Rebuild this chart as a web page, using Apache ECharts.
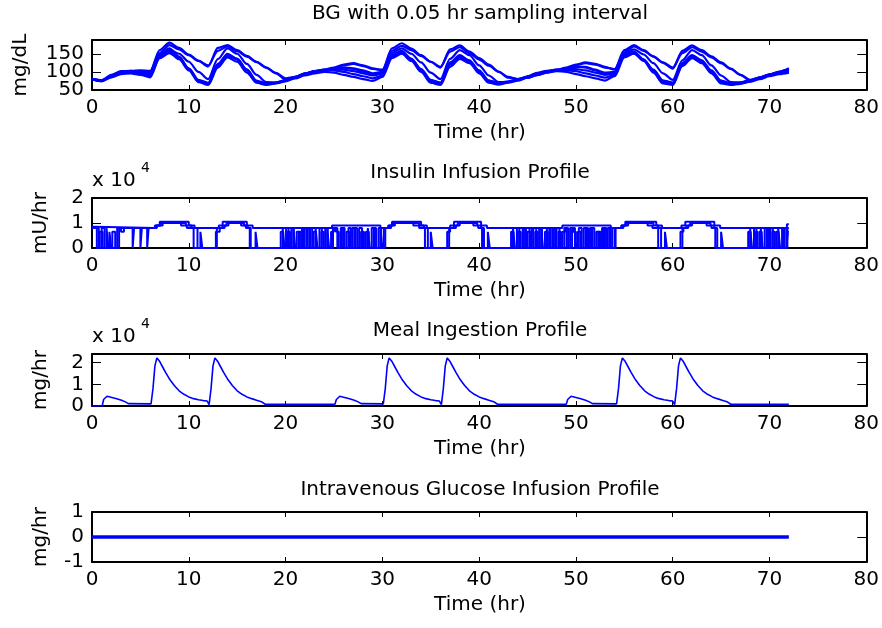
<!DOCTYPE html>
<html>
<head>
<meta charset="utf-8">
<script src="https://cdn.jsdelivr.net/npm/echarts@6.0.0/dist/echarts.min.js"></script>
<style>
html,body{margin:0;padding:0;background:#fff}
#chart{width:882px;height:628px}
</style>
</head>
<body>
<div id="chart"></div>
<script>
// ---- data ----
var timeTicks = [0, 10, 20, 30, 40, 50, 60, 70, 80];

// BG, one value per hour, 0..72 hr
var bgTime = [0,1,2,3,4,5,6,7,8,9,10,11,12,13,14,15,16,17,18,19,20,21,22,23,24,25,26,27,28,29,30,31,32,33,34,35,36,
    37,38,39,40,41,42,43,44,45,46,47,48,49,50,51,52,53,54,55,56,57,58,59,60,61,62,63,64,65,66,67,68,69,70,71,72];
var bgA = [80,77,88,99,103,104,103,160,181,166,148,131,115,166,174,160,144,128,112,96,79,84,94,101,
    105,110,118,122,116,108,106,165,179,164,146,128,112,162,173,156,138,120,101,84,80,84,91,98,
    104,110,118,124,120,112,108,160,174,160,143,125,109,158,173,160,143,126,109,92,76,82,92,100,108];
var bgF = [80,76,86,96,100,101,100,152,174,162,146,130,118,158,170,157,142,127,112,97,82,86,95,102,
    106,112,120,124,118,110,104,158,172,160,144,128,114,156,168,152,134,117,100,86,80,84,92,99,
    105,112,120,126,122,114,106,154,170,158,142,126,112,152,168,156,140,124,108,92,78,84,93,101,110];
var bgB = [80,75,90,100,101,96,88,148,165,142,108,74,66,122,150,136,104,72,65,69,75,84,94,100,
    104,104,100,94,88,82,90,146,158,136,104,72,66,126,146,130,100,72,67,72,78,86,95,101,
    104,105,102,96,90,84,92,148,156,134,102,71,66,124,144,130,100,71,65,68,74,82,90,96,100];
var bgC = [80,76,92,102,103,99,92,145,160,140,110,78,70,118,145,134,106,76,68,71,77,86,95,101,
    104,106,106,102,96,90,95,140,152,134,106,76,70,120,140,128,102,76,70,74,80,88,97,103,
    106,108,108,104,98,92,96,142,150,132,104,75,70,120,140,128,102,75,68,71,77,85,93,99,104];
var bgD = [79,74,85,94,96,92,85,140,156,135,104,72,64,112,140,128,98,70,64,68,74,82,90,96,
    100,98,92,86,80,75,86,138,150,130,100,70,64,114,136,124,96,70,65,70,76,84,92,98,
    102,100,94,88,82,76,88,140,152,130,98,68,64,116,138,124,96,68,64,67,73,80,88,94,98];
var bgE = [80,75,88,98,100,97,90,138,152,136,108,76,68,120,148,136,106,74,66,70,76,86,96,102,
    106,110,112,108,100,92,98,144,154,136,108,78,70,124,144,132,104,76,68,72,78,87,96,102,
    106,110,114,112,104,94,98,144,152,134,106,76,70,124,146,132,104,76,68,70,76,84,92,98,102];
var bgG = [80,77,90,100,102,100,96,150,162,150,128,100,80,135,165,150,122,92,72,70,76,85,95,101,
    104,108,112,110,104,96,100,152,165,150,126,98,80,136,160,146,118,90,72,72,78,86,95,101,
    105,108,114,114,106,98,100,150,162,148,124,96,78,132,160,146,118,90,72,70,76,84,92,98,104];
var bgRuns = [bgA, bgF, bgB, bgC, bgD, bgE, bgG];

// insulin infusion, [hr, mU/hr] change points (held until the next one)
var insulinUpper = [[0,8500],[0.3,8000],[6.5,9000],[7.0,10500],[10.0,9000],[10.6,8000],[13.1,9000],[13.5,10500],[16.0,9000],[16.6,8000],
    [24.8,9000],[29.8,8000],[30.6,9000],[31.0,10500],[34.0,9000],[34.6,8000],[37.0,9000],[37.4,10500],[40.2,9000],[40.8,8000],
    [48.6,9000],[53.6,8000],[54.7,9000],[55.1,10500],[58.3,9000],[58.9,8000],[60.9,9000],[61.3,10500],[64.3,9000],[64.9,8000],
    [71.8,9500],[72,9500]];
var insulinLow1 = [[0,8000],[0.5,0],[0.8,6500],[1.1,0],[1.5,8000],[1.7,0],[2.1,6500],[2.4,0],[2.8,8000],
    [4.2,0],[4.35,8000],[5.0,0],[5.15,8000],[5.7,0],[5.85,8000],
    [6.6,9000],[7.1,10000],[9.7,9000],[10.3,8000],[10.9,0],[11.2,6500],[11.4,0],[12.9,8000],[13.5,9000],[13.9,10000],
    [15.7,9000],[16.1,8000],[16.4,0],[16.9,6500],[17.1,0],
    [19.7,8000],[19.9,0],[20.2,6500],[20.45,0],[20.8,8000],[21.0,0],[21.35,6500],[21.6,0],[21.9,8000],[22.15,0],[22.5,8000],
    [22.75,0],[23.1,8000],[23.3,0],[23.7,6500],[23.95,0],[24.3,8000],[24.5,0],[24.9,8000],[25.2,6500],[25.5,0],[25.8,8000],
    [26.1,0],[26.5,8000],[26.75,0],[27.1,8000],[27.4,0],[27.8,6500],[28.1,0],[28.5,8000],[28.7,0],[29.1,8000],[29.35,0],
    [29.8,8000],[30.0,0],[30.3,8000],
    [30.7,9000],[31.1,10000],[33.8,9000],[34.3,8000],[34.7,0],[35.0,6500],[35.2,0],[36.9,8000],[37.4,9000],[37.8,10000],
    [39.8,9000],[40.2,8000],[40.5,0],[40.9,6500],[41.1,0],
    [43.5,8000],[43.7,0],[44.0,6500],[44.3,0],[44.6,8000],[44.85,0],[45.2,8000],[45.45,0],[45.8,6500],[46.05,0],[46.4,8000],
    [46.6,0],[47.0,8000],[47.25,0],[47.6,8000],[47.85,0],[48.2,6500],[48.45,0],[48.8,8000],[49.05,0],[49.4,8000],[49.7,6500],
    [50.0,0],[50.3,8000],[50.6,0],[51.0,8000],[51.25,0],[51.6,8000],[51.9,0],[52.3,6500],[52.55,0],[52.9,8000],[53.15,0],
    [53.5,8000],[53.75,0],[54.1,8000],
    [54.7,9000],[55.2,10000],[58.0,9000],[58.5,8000],[58.8,0],[59.2,6500],[59.4,0],[61.0,8000],[61.4,9000],[61.8,10000],
    [63.9,9000],[64.3,8000],[64.6,0],[65.0,6500],[65.2,0],
    [68.0,8000],[68.2,0],[68.5,6500],[68.75,0],[69.1,8000],[69.3,0],[69.7,8000],[69.95,0],[70.3,6500],[70.55,0],[70.9,8000],
    [71.1,0],[71.5,8000],[71.75,0],[71.9,6500],[72,6500]];
var insulinLow2 = [[0,8000],[0.7,0],[1.0,8000],[1.3,0],[1.8,6500],[2.0,0],[2.6,8000],[3.0,6500],[3.3,8000],
    [6.7,9000],[7.3,10000],[9.2,9000],[9.8,8000],[10.5,0],[12.8,6500],[13.2,8000],[13.7,9000],[14.1,10000],[15.4,9000],
    [15.9,8000],[16.3,0],
    [19.5,6500],[19.75,0],[20.05,8000],[20.3,0],[20.6,8000],[20.85,0],[21.15,6500],[21.4,0],[21.7,8000],[21.95,0],[22.3,8000],
    [22.55,0],[22.9,6500],[23.15,0],[23.5,8000],[23.75,0],[24.1,8000],[24.35,0],[24.7,6500],[25.0,8000],[25.35,0],[25.7,8000],
    [25.95,0],[26.3,6500],[26.6,0],[26.9,8000],[27.2,0],[27.6,8000],[27.9,0],[28.3,6500],[28.6,0],[28.9,8000],[29.2,0],
    [29.6,8000],[29.85,0],[30.15,8000],
    [30.9,9000],[31.3,10000],[33.2,9000],[33.8,8000],[34.4,0],[36.7,6500],[37.0,8000],[37.6,9000],[38.0,10000],[39.4,9000],
    [39.9,8000],[40.3,0],
    [43.3,6500],[43.55,0],[43.9,8000],[44.15,0],[44.5,8000],[44.75,0],[45.0,6500],[45.3,0],[45.6,8000],[45.9,0],[46.2,8000],
    [46.5,0],[46.8,6500],[47.1,0],[47.4,8000],[47.7,0],[48.0,8000],[48.3,0],[48.6,6500],[48.9,8000],[49.2,0],[49.6,8000],
    [49.9,0],[50.2,6500],[50.5,0],[50.8,8000],[51.1,0],[51.45,8000],[51.7,0],[52.1,6500],[52.4,0],[52.7,8000],[53.0,0],
    [53.3,8000],[53.6,0],[54.0,8000],
    [54.9,9000],[55.4,10000],[57.4,9000],[57.9,8000],[58.5,0],[60.8,6500],[61.1,8000],[61.6,9000],[62.0,10000],[63.5,9000],
    [64.0,8000],[64.4,0],
    [67.8,6500],[68.05,0],[68.4,8000],[68.65,0],[68.95,6500],[69.2,0],[69.5,8000],[69.8,0],[70.1,8000],[70.35,0],[70.7,6500],
    [70.95,0],[71.3,8000],[71.55,0],[71.85,8000],[72,8000]];

// meal ingestion rate, [hr, mg/hr]
var mealRate = [[0,0],[1.05,0],[1.2,3000],[1.55,4500],[2.05,3900],[2.55,3300],[3.05,2700],[3.45,1900],[3.75,1100],[6.1,1000],
    [6.3,8000],[6.5,18500],[6.7,22200],[7.0,20500],[7.3,18000],[7.6,15500],[8.0,12500],[8.5,9500],[9.0,7000],[9.5,5400],
    [10.0,4200],[10.5,3400],[11.0,2900],[11.5,2500],[11.9,2300],[12.1,600],
    [12.3,8000],[12.5,18500],[12.7,22200],[13.0,20500],[13.3,18000],[13.6,15500],[14.0,12500],[14.5,9500],[15.0,7000],
    [15.5,5400],[16.0,4200],[16.5,3400],[17.0,2700],[17.5,2000],[17.7,1500],[17.9,800],[25.1,800],
    [25.25,3000],[25.6,4500],[26.1,3900],[26.6,3300],[27.1,2700],[27.5,1900],[27.8,1100],[30.1,1000],
    [30.3,8000],[30.5,18500],[30.7,22200],[31.0,20500],[31.3,18000],[31.6,15500],[32.0,12500],[32.5,9500],[33.0,7000],
    [33.5,5400],[34.0,4200],[34.5,3400],[35.0,2900],[35.5,2500],[35.9,2300],[36.1,600],
    [36.3,8000],[36.5,18500],[36.7,22200],[37.0,20500],[37.3,18000],[37.6,15500],[38.0,12500],[38.5,9500],[39.0,7000],
    [39.5,5400],[40.0,4200],[40.5,3400],[41.0,2700],[41.5,2000],[41.7,1500],[41.9,800],[49.0,800],
    [49.15,3000],[49.5,4500],[50.0,3900],[50.5,3300],[51.0,2700],[51.4,1900],[51.7,1100],[54.2,1000],
    [54.4,8000],[54.6,18500],[54.8,22200],[55.1,20500],[55.4,18000],[55.7,15500],[56.1,12500],[56.6,9500],[57.1,7000],
    [57.6,5400],[58.1,4200],[58.6,3400],[59.1,2900],[59.6,2500],[60.0,2300],[60.2,600],
    [60.4,8000],[60.6,18500],[60.8,22200],[61.1,20500],[61.4,18000],[61.7,15500],[62.1,12500],[62.6,9500],[63.1,7000],
    [63.6,5400],[64.1,4200],[64.6,3400],[65.1,2700],[65.6,2000],[65.8,1500],[66.0,800],[72,800]];

// IV glucose infusion, [hr, mg/hr]
var ivGlucose = [[0,0],[72,0]];

// ---- layout ----
var FONT = 'DejaVu Sans';
var FS = 20;
var BLUE = '#0000ff';
var plotLeft = 92, plotWidth = 776;
var panels = [
    {top: 40,  height: 50, min: 50,  max: 188,   step: 50,    name: 'mg/dL', nameX: 21, title: 'BG with 0.05 hr sampling interval', titleY: 14, split: [100]},
    {top: 198, height: 50, min: 0,   max: 20000, step: 10000, name: 'mU/hr', nameX: 41, title: 'Insulin Infusion Profile', titleY: 173, exp: true},
    {top: 354, height: 52, min: 0,   max: 24000, step: 10000, name: 'mg/hr', nameX: 41, title: 'Meal Ingestion Profile', titleY: 331, exp: true},
    {top: 512, height: 50, min: -1,  max: 1,     step: 1,     name: 'mg/hr', nameX: 41, title: 'Intravenous Glucose Infusion Profile', titleY: 490}
];

var chart = echarts.init(document.getElementById('chart'), null, {renderer: 'canvas'});

var grids = [], xAxes = [], yAxes = [], graphics = [];
var lineStyle = {color: '#000', width: 2};
var font = FS + 'px "' + FONT + '"';

function labelText(p, v) {
    return p.exp ? String(v / 10000) : String(v);
}

panels.forEach(function (p, i) {
    grids.push({left: plotLeft, top: p.top, width: plotWidth, height: p.height});
    p.xIndex = xAxes.length;
    // bottom and top x axes (top one only draws the box edge and ticks)
    xAxes.push({
        type: 'value', gridIndex: i, position: 'bottom', min: 0, max: 80, interval: 10,
        axisLine: {show: true, onZero: false, lineStyle: lineStyle},
        axisTick: {show: true, inside: true, length: 5, lineStyle: {color: '#000', width: 1}},
        axisLabel: {show: true, margin: 8, color: '#000', fontFamily: FONT, fontSize: FS},
        splitLine: {show: false}
    });
    xAxes.push({
        type: 'value', gridIndex: i, position: 'top', min: 0, max: 80, interval: 10,
        axisLine: {show: true, onZero: false, lineStyle: lineStyle},
        axisTick: {show: true, inside: true, length: 5, lineStyle: {color: '#000', width: 1}},
        axisLabel: {show: false}, splitLine: {show: false}
    });
    p.yIndex = yAxes.length;
    var split = p.split || [];
    yAxes.push({
        type: 'value', gridIndex: i, position: 'left', min: p.min, max: p.max, interval: p.step,
        axisLine: {show: true, onZero: false, lineStyle: lineStyle},
        axisTick: {show: true, inside: true, length: 9, lineStyle: {color: '#000', width: 1}},
        axisLabel: {
            show: true, margin: 8, color: '#000', fontFamily: FONT, fontSize: FS,
            showMinLabel: true, showMaxLabel: p.max % p.step === 0,
            formatter: function (v) { return split.indexOf(v) >= 0 ? '' : labelText(p, v); }
        },
        splitLine: {show: false}
    });
    if (split.length) {
        // labels too close to their neighbours get their own (line-less) axis so none is dropped
        yAxes.push({
            type: 'value', gridIndex: i, position: 'left', min: p.min, max: p.max, interval: p.step,
            axisLine: {show: false}, axisTick: {show: false}, splitLine: {show: false},
            axisLabel: {
                show: true, margin: 8, color: '#000', fontFamily: FONT, fontSize: FS,
                showMinLabel: true, showMaxLabel: true,
                formatter: function (v) { return split.indexOf(v) >= 0 ? labelText(p, v) : ''; }
            }
        });
    }
    yAxes.push({
        type: 'value', gridIndex: i, position: 'right', min: p.min, max: p.max, interval: p.step,
        axisLine: {show: true, onZero: false, lineStyle: lineStyle},
        axisTick: {show: true, inside: true, length: 9, lineStyle: {color: '#000', width: 1}},
        axisLabel: {show: false}, splitLine: {show: false}
    });

    // title, x label, y label
    graphics.push({type: 'text', x: plotLeft + plotWidth / 2, y: p.titleY,
        style: {text: p.title, align: 'center', verticalAlign: 'middle', fill: '#000', font: font}});
    graphics.push({type: 'text', x: plotLeft + plotWidth / 2, y: p.top + p.height + 43,
        style: {text: 'Time (hr)', align: 'center', verticalAlign: 'middle', fill: '#000', font: font}});
    graphics.push({type: 'text', x: p.nameX, y: p.top + p.height / 2, rotation: Math.PI / 2,
        style: {text: p.name, align: 'center', verticalAlign: 'middle', fill: '#000', font: font}});
    if (p.exp) {
        graphics.push({type: 'text', x: 92, y: p.top - 17,
            style: {text: 'x 10', align: 'left', verticalAlign: 'middle', fill: '#000', font: font}});
        graphics.push({type: 'text', x: 141, y: p.top - 30,
            style: {text: '4', align: 'left', verticalAlign: 'middle', fill: '#000', font: '14px "' + FONT + '"'}});
    }
});

var series = [];
// panel 1: BG runs
bgRuns.forEach(function (run) {
    series.push({
        type: 'line', xAxisIndex: panels[0].xIndex, yAxisIndex: panels[0].yIndex,
        showSymbol: false, smooth: 0.3, smoothMonotone: 'x',
        lineStyle: {color: BLUE, width: 2.2},
        data: bgTime.map(function (t, k) { return [t, run[k]]; })
    });
});
// panel 2: insulin
[insulinLow1, insulinLow2, insulinUpper].forEach(function (run) {
    series.push({
        type: 'line', xAxisIndex: panels[1].xIndex, yAxisIndex: panels[1].yIndex, showSymbol: false, step: 'end',
        lineStyle: {color: BLUE, width: 2}, data: run
    });
});
// panel 3: meal
series.push({
    type: 'line', xAxisIndex: panels[2].xIndex, yAxisIndex: panels[2].yIndex, showSymbol: false,
    lineStyle: {color: BLUE, width: 1.6}, data: mealRate
});
// panel 4: IV glucose
series.push({
    type: 'line', xAxisIndex: panels[3].xIndex, yAxisIndex: panels[3].yIndex, showSymbol: false,
    lineStyle: {color: BLUE, width: 3.5}, data: ivGlucose
});

chart.setOption({
    animation: false,
    backgroundColor: '#fff',
    grid: grids,
    xAxis: xAxes,
    yAxis: yAxes,
    series: series,
    graphic: graphics
});
</script>
</body>
</html>
